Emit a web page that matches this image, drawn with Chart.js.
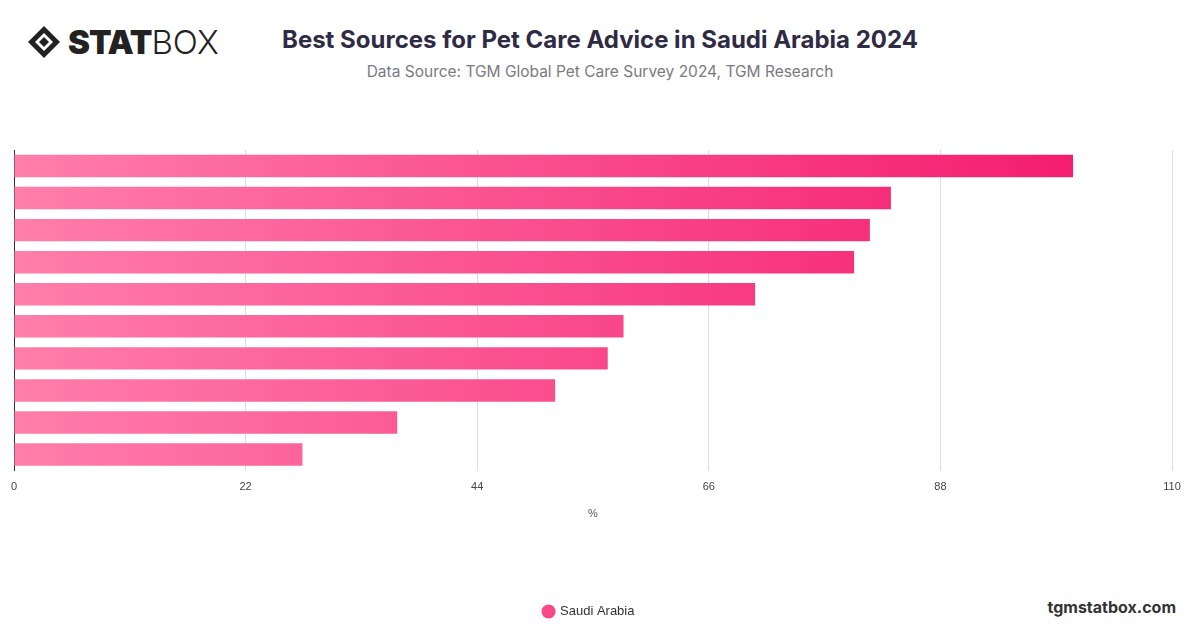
<!DOCTYPE html>
<html><head><meta charset="utf-8">
<script src="https://cdn.jsdelivr.net/npm/chart.js@4"></script>
<style>
body{margin:0;width:1200px;height:628px;background:#fff;font-family:Inter,"Noto Sans",sans-serif;position:relative;overflow:hidden}
#logo{position:absolute;left:26px;top:22px;display:flex;align-items:center;font-size:33px;color:#222}
#logo svg{margin-right:6px}
#logo b{font-weight:900;letter-spacing:-1px}
#logo span{font-weight:300}
h1{position:absolute;left:0;width:1200px;text-align:center;top:25px;margin:0;font-size:24px;font-weight:700;color:#2f2b45}
#sub{position:absolute;left:0;width:1200px;text-align:center;top:62px;font-size:15.5px;color:#7a7a80}
#site{position:absolute;right:24px;top:597px;font-size:16px;font-weight:700;color:#333}
#wrap{position:absolute;left:0;top:150px;width:1200px;height:484px}
</style></head><body>
<div id="logo"><svg width="36" height="36" viewBox="0 0 36 36"><path d="M18 2 L34 18 L18 34 L2 18Z" fill="#222"/><path d="M18 9 L27 18 L18 27 L9 18Z" fill="#fff"/><path d="M18 13 L23 18 L18 23 L13 18Z" fill="#222"/></svg><b>STAT</b><span>BOX</span></div>
<h1>Best Sources for Pet Care Advice in Saudi Arabia 2024</h1>
<div id="sub">Data Source: TGM Global Pet Care Survey 2024, TGM Research</div>
<div id="site">tgmstatbox.com</div>
<div id="wrap"><canvas id="c"></canvas></div>
<script>
const categories = ['Veterinarians','Family and friends','Pet shops','Online search','Social media','Breeders','Pet care websites','Online forums','Books and magazines','TV and radio'];
const saudiValues = [100.6, 83.3, 81.3, 79.8, 70.4, 57.9, 56.4, 51.4, 36.4, 27.4];
const xTicks = [0, 22, 44, 66, 88, 110];

function barFill(context) {
  const chart = context.chart;
  const el = context.element;
  if (!chart.chartArea || !el) return '#f5508a';
  const x0 = chart.scales.x.getPixelForValue(0);
  const x1 = el.x || chart.chartArea.right;
  const g = chart.ctx.createLinearGradient(x0, 0, Math.max(x1, x0 + 1), 0);
  g.addColorStop(0, '#ff7eaa');
  g.addColorStop(1, '#f3146a');
  return g;
}

new Chart(document.getElementById('c'), {
  type: 'bar',
  data: {
    labels: categories,
    datasets: [{
      label: 'Saudi Arabia',
      data: saudiValues,
      backgroundColor: barFill,
      borderWidth: 0,
      barPercentage: 0.7,
      categoryPercentage: 1
    }]
  },
  options: {
    indexAxis: 'y',
    responsive: true,
    maintainAspectRatio: false,
    animation: false,
    layout: {padding: {left: 6, right: 28, top: 0, bottom: 6}},
    scales: {
      x: {
        min: 0, max: 110,
        afterBuildTicks: axis => { axis.ticks = xTicks.map(v => ({value: v})); },
        grid: {color: '#dddddd', drawTicks: false},
        border: {display: false},
        ticks: {color: '#444', font: {size: 11}, padding: 10},
        title: {display: true, text: '%', color: '#555', font: {size: 11}, padding: {top: 4}}
      },
      y: {
        grid: {display: false},
        border: {display: true, color: '#333', width: 1},
        ticks: {display: false}
      }
    },
    plugins: {
      legend: {
        position: 'bottom',
        labels: {usePointStyle: true, pointStyle: 'circle', boxWidth: 10, boxHeight: 10, color: '#333', font: {size: 13}, padding: 80},
      },
      tooltip: {enabled: false}
    }
  }
});
</script>
</body></html>
